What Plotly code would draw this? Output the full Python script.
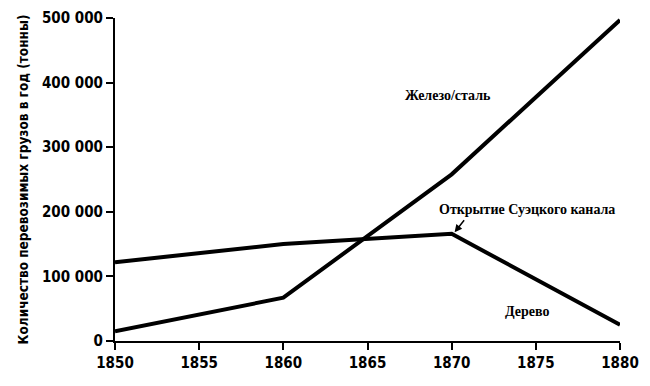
import plotly.graph_objects as go

years_iron = [1850, 1860, 1870, 1875, 1880]
iron = [15000, 67000, 258000, 377000, 497000]
years_wood = [1850, 1860, 1870, 1880]
wood = [122000, 150000, 166000, 25000]
y_ticks = [0, 100000, 200000, 300000, 400000, 500000]
y_labels = ["0", "100 000", "200 000", "300 000", "400 000", "500 000"]
x_ticks = [1850, 1855, 1860, 1865, 1870, 1875, 1880]

fig = go.Figure()
fig.add_trace(go.Scatter(x=years_iron, y=iron, mode="lines",
                         line=dict(color="black", width=4), showlegend=False))
fig.add_trace(go.Scatter(x=years_wood, y=wood, mode="lines",
                         line=dict(color="black", width=4), showlegend=False))

tickfont = dict(family="DejaVu Sans Condensed, Liberation Sans Narrow, Arial", size=15, color="black")
serif = dict(family="Liberation Serif, Times New Roman, serif", size=14, color="black")

fig.update_layout(
    width=650, height=386,
    margin=dict(l=107, r=38, t=10, b=53, autoexpand=False),
    paper_bgcolor="white", plot_bgcolor="white",
    xaxis=dict(range=[1850, 1880], tickvals=x_ticks, ticktext=[f"<b>{v}</b>" for v in x_ticks],
               showgrid=False, zeroline=False, showline=True, linecolor="black", linewidth=2,
               ticks="outside", ticklen=7, tickwidth=2, tickcolor="black", tickfont=tickfont,
               ticklabeloverflow="allow", automargin=False),
    yaxis=dict(range=[0, 500000], tickvals=y_ticks, ticktext=[f"<b>{v}</b>" for v in y_labels],
               showgrid=False, zeroline=False, showline=True, linecolor="black", linewidth=2,
               ticks="outside", ticklen=7, tickwidth=2, tickcolor="black", tickfont=tickfont,
               ticklabeloverflow="allow", automargin=False,
               title=dict(text="<b>Количество перевозимых грузов в год (тонны)</b>",
                          font=dict(family="DejaVu Sans Condensed, Liberation Sans Narrow, Arial", size=13.5, color="black"),
                          standoff=10)),
    annotations=[
        dict(x=1869.8, y=380000, text="<b>Железо/сталь</b>", showarrow=False, font=serif),
        dict(x=1874.5, y=204000, text="<b>Открытие Суэцкого канала</b>", showarrow=False, font=serif),
        dict(x=1870.1, y=166000, text="", showarrow=True,
             arrowhead=2, arrowsize=1, arrowwidth=1.5, arrowcolor="black",
             ax=12, ay=-15, standoff=2),
        dict(x=1874.5, y=45000, text="<b>Дерево</b>", showarrow=False, font=serif),
    ],
)

fig.write_html("out.html")
